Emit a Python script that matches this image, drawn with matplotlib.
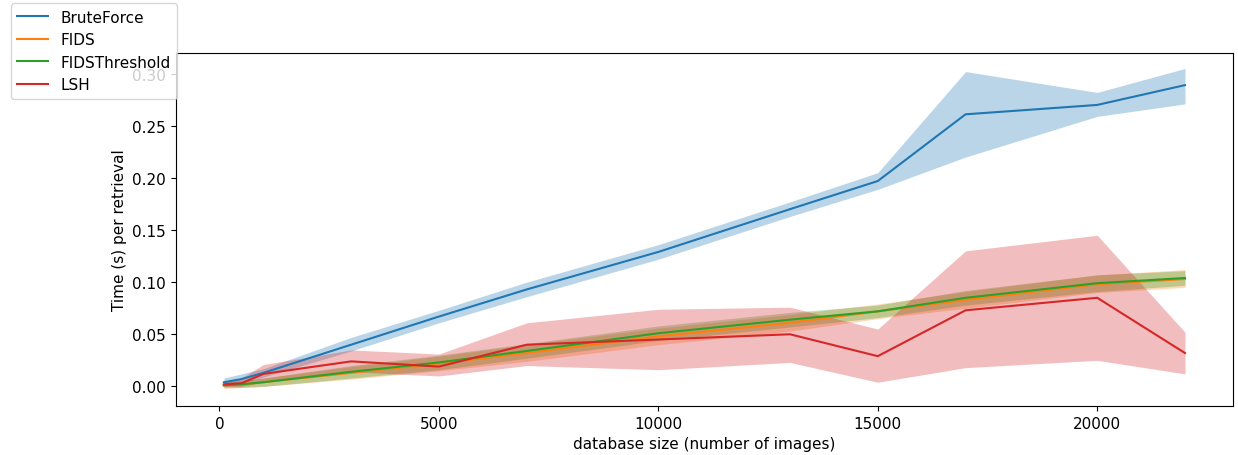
import matplotlib
matplotlib.use("Agg")
import matplotlib.pyplot as plt
import numpy as np

plt.rcParams["font.size"] = 11

sizes = [100, 500, 1000, 3000, 5000, 7000, 10000, 13000, 15000, 17000, 20000, 22000]

brute_mean = [0.004, 0.007, 0.013, 0.040, 0.067, 0.093, 0.129, 0.170, 0.197, 0.261, 0.270, 0.289]
brute_lo   = [0.001, 0.003, 0.009, 0.034, 0.061, 0.086, 0.122, 0.163, 0.189, 0.220, 0.259, 0.271]
brute_hi   = [0.008, 0.012, 0.017, 0.047, 0.073, 0.100, 0.136, 0.177, 0.205, 0.302, 0.282, 0.305]

fids_mean = [0.001, 0.002, 0.004, 0.013, 0.022, 0.032, 0.048, 0.061, 0.072, 0.083, 0.098, 0.103]
fids_lo   = [-0.002, -0.001, 0.000, 0.007, 0.015, 0.024, 0.040, 0.053, 0.065, 0.075, 0.090, 0.095]
fids_hi   = [0.004, 0.006, 0.008, 0.019, 0.029, 0.040, 0.056, 0.069, 0.079, 0.091, 0.107, 0.112]

thr_mean = [0.001, 0.002, 0.004, 0.014, 0.023, 0.034, 0.051, 0.064, 0.072, 0.085, 0.099, 0.104]
thr_lo   = [-0.001, -0.001, 0.000, 0.008, 0.016, 0.027, 0.044, 0.057, 0.066, 0.078, 0.091, 0.097]
thr_hi   = [0.004, 0.005, 0.008, 0.020, 0.030, 0.041, 0.058, 0.071, 0.078, 0.092, 0.107, 0.111]

lsh_mean = [0.002, 0.003, 0.012, 0.024, 0.019, 0.040, 0.045, 0.050, 0.029, 0.073, 0.085, 0.032]
lsh_lo   = [0.000, 0.000, 0.004, 0.014, 0.010, 0.020, 0.016, 0.023, 0.004, 0.018, 0.025, 0.012]
lsh_hi   = [0.004, 0.008, 0.021, 0.035, 0.031, 0.061, 0.074, 0.076, 0.055, 0.130, 0.145, 0.052]

series = [
    ("BruteForce", brute_mean, brute_lo, brute_hi, "#1f77b4"),
    ("FIDS", fids_mean, fids_lo, fids_hi, "#ff7f0e"),
    ("FIDSThreshold", thr_mean, thr_lo, thr_hi, "#2ca02c"),
    ("LSH", lsh_mean, lsh_lo, lsh_hi, "#d62728"),
]

fig = plt.figure(figsize=(12.38, 4.56), dpi=100)
ax = fig.add_axes([0.142, 0.107, 0.854, 0.775])

for name, m, lo, hi, c in series:
    ax.plot(sizes, m, color=c, label=name, lw=1.5)
    ax.fill_between(sizes, lo, hi, color=c, alpha=0.3, lw=0)

ax.set_xlabel("database size (number of images)")
ax.set_ylabel("Time (s) per retrieval")
ax.set_ylim(-0.019, 0.320)
ax.set_xticks([0, 5000, 10000, 15000, 20000])
ax.set_yticks([0.0, 0.05, 0.10, 0.15, 0.20, 0.25, 0.30])

fig.legend(loc="upper left", bbox_to_anchor=(0.003, 1.007))
fig.savefig("out.png", dpi=100)
